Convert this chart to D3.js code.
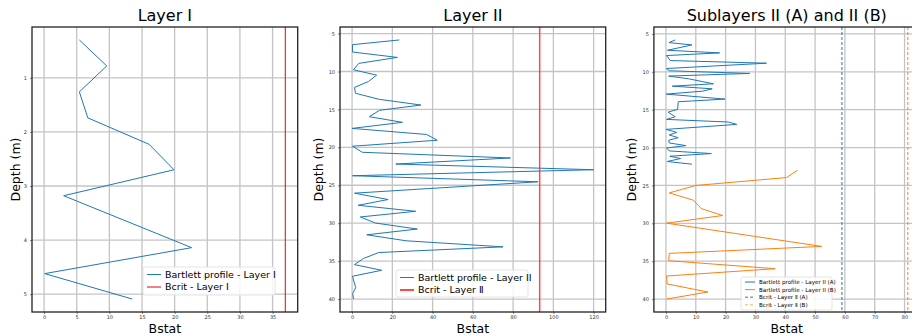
<!DOCTYPE html>
<html>
<head>
<meta charset="utf-8">
<script src="https://cdn.jsdelivr.net/npm/d3@7"></script>
<style>
  body { margin: 0; background: #fff; }
  text { font-family: "DejaVu Sans", sans-serif; }
</style>
</head>
<body>
<div id="chart"></div>
<script>
// ---- data ----
// Layer I
const layer1Depth = [0.30, 0.78, 1.26, 1.74, 2.23, 2.70, 3.18, 4.14, 4.62, 5.09];
const layer1Bstat = [5.4, 9.6, 5.4, 6.7, 16.1, 19.9, 3.0, 22.6, 0.1, 13.5];
const layer1Bcrit = 36.95;

// Layer II
const layer2Depth = [5.84, 6.46, 7.43, 8.14, 8.93, 9.77, 10.48, 11.32, 12.1, 12.87, 13.66, 14.42, 15.12, 15.96,
  16.7, 17.5, 18.3, 19.06, 19.85, 20.65, 21.4, 22.2, 22.95, 23.74, 24.54, 26.04, 26.88, 27.64, 28.43, 29.18,
  29.98, 30.77, 31.53, 32.32, 33.12, 33.87, 34.66, 35.46, 36.21, 37.0, 38.5, 39.3, 40.0];
const layer2Bstat = [23.5, 0.2, 0.2, 22.5, 3.3, 0.7, 12.2, 8.1, 1.2, 1.7, 13.4, 34.2, 13.6, 8.6,
  25.0, 0.0, 37.0, 42.3, 0.2, 5.1, 78.7, 21.7, 120.0, 0.2, 92.4, 1.2, 17.9, 3.0, 31.6, 4.1,
  11.6, 32.4, 7.3, 26.8, 75.0, 13.2, 5.6, 1.2, 14.7, 0.2, 1.8, 0.3, 0.7];
const layer2Bcrit = 93.2;

// Sublayer II (A)
const subADepth = [5.79, 6.14, 6.45, 7.15, 7.5, 7.85, 8.51, 8.86, 9.56, 9.86, 10.21, 10.56, 10.92, 11.58,
  11.89, 12.24, 12.55, 12.94, 13.6, 13.95, 14.96, 15.32, 15.93, 16.28, 16.63, 16.94, 17.6, 17.99, 18.34,
  18.69, 19.04, 19.39, 19.74, 20.05, 20.44, 20.79, 21.14, 21.45, 21.84, 22.19];
const subABstat = [3.1, 1.0, 8.7, 0.5, 18.0, 0.2, 1.4, 33.7, 0.2, 1.1, 28.1, 0.9, 7.6, 15.9,
  2.1, 15.5, 12.3, 0.1, 19.8, 4.1, 3.9, 0.7, 3.1, 0.2, 21.0, 23.7, 0.0, 3.6, 1.1, 4.1,
  0.9, 1.1, 6.7, 0.2, 1.1, 15.2, 1.3, 4.9, 0.4, 8.7];
const subABcrit = 59.0;

// Sublayer II (B)
const subBDepth = [23.0, 23.96, 25.0, 25.98, 26.95, 28.05, 28.97, 29.98, 33.05, 33.97, 34.94, 35.99, 36.96, 38.01, 39.07, 40.0];
const subBBstat = [44.1, 40.4, 10.0, 1.1, 9.2, 11.8, 19.0, 0.2, 52.2, 1.1, 0.9, 36.6, 0.2, 0.4, 14.1, 0.2];
const subBBcrit = 81.1;

const layer1XTicks = [0, 5, 10, 15, 20, 25, 30, 35];
const layer1YTicks = [1, 2, 3, 4, 5];
const layer2XTicks = [0, 20, 40, 60, 80, 100, 120];
const layer2YTicks = [5, 10, 15, 20, 25, 30, 35, 40];
const subXTicks = [0, 10, 20, 30, 40, 50, 60, 70, 80];
const subYTicks = [5, 10, 15, 20, 25, 30, 35, 40];

// ---- layout ----
const width = 912, height = 335;
const plotTop = 27, plotBottom = 312, panelW = 265.7;

const svg = d3.select("#chart").append("svg")
  .attr("width", width)
  .attr("height", height);

const blue = "#1f77b4", orange = "#ff7f0e";

function panel(opts) {
  const x = d3.scaleLinear().domain(opts.xDomain).range([opts.left, opts.left + panelW]);
  const y = d3.scaleLinear().domain(opts.yDomain).range([plotTop, plotBottom]);
  const g = svg.append("g");

  // grid
  g.append("g").selectAll("line").data(opts.xTicks).join("line")
    .attr("x1", d => x(d)).attr("x2", d => x(d))
    .attr("y1", plotTop).attr("y2", plotBottom)
    .attr("stroke", "#c4c4c4").attr("stroke-width", 1.3);
  g.append("g").selectAll("line").data(opts.yTicks).join("line")
    .attr("y1", d => y(d)).attr("y2", d => y(d))
    .attr("x1", opts.left).attr("x2", opts.left + panelW)
    .attr("stroke", "#c4c4c4").attr("stroke-width", 1.3);

  // axes
  const xAxis = g.append("g").attr("transform", "translate(0," + plotBottom + ")")
    .call(d3.axisBottom(x).tickValues(opts.xTicks).tickFormat(d3.format("d")).tickSize(2).tickPadding(1.5));
  const yAxis = g.append("g").attr("transform", "translate(" + opts.left + ",0)")
    .call(d3.axisLeft(y).tickValues(opts.yTicks).tickFormat(d3.format("d")).tickSize(2).tickPadding(3));
  [xAxis, yAxis].forEach(a => {
    a.select(".domain").remove();
    a.selectAll("text").attr("font-size", 5).attr("fill", "#333");
    a.selectAll("line").attr("stroke", "#333").attr("stroke-width", 0.6);
  });

  // series
  const clipId = "clip" + opts.left.toFixed(0);
  svg.append("clipPath").attr("id", clipId).append("rect")
    .attr("x", opts.left).attr("y", plotTop).attr("width", panelW).attr("height", plotBottom - plotTop);
  const plot = g.append("g").attr("clip-path", "url(#" + clipId + ")");

  opts.series.forEach(s => {
    const pts = s.depth.map((d, i) => [s.bstat[i], d]);
    plot.append("path")
      .datum(pts)
      .attr("fill", "none")
      .attr("stroke", s.color)
      .attr("stroke-width", 1)
      .attr("d", d3.line().x(d => x(d[0])).y(d => y(d[1])));
  });
  opts.crits.forEach(c => {
    plot.append("line")
      .attr("x1", x(c.value)).attr("x2", x(c.value))
      .attr("y1", plotTop).attr("y2", plotBottom)
      .attr("stroke", c.color).attr("stroke-width", c.width)
      .attr("stroke-dasharray", c.dash || null)
      .attr("opacity", c.opacity || 1);
  });

  // frame
  g.append("rect")
    .attr("x", opts.left).attr("y", plotTop).attr("width", panelW).attr("height", plotBottom - plotTop)
    .attr("fill", "none").attr("stroke", "#222").attr("stroke-width", 1.3);

  // title and labels
  svg.append("text").attr("x", opts.left + panelW / 2).attr("y", 21)
    .attr("text-anchor", "middle").attr("font-size", 16).text(opts.title);
  svg.append("text").attr("x", opts.left + panelW / 2).attr("y", 333)
    .attr("text-anchor", "middle").attr("font-size", 12.5).text("Bstat");
  svg.append("text")
    .attr("transform", "translate(" + opts.yLabelX + "," + ((plotTop + plotBottom) / 2) + ") rotate(-90)")
    .attr("text-anchor", "middle").attr("font-size", 12.5).text("Depth (m)");

  // legend
  const L = opts.legend;
  const lg = svg.append("g");
  lg.append("rect").attr("x", L.x).attr("y", L.y).attr("width", L.w).attr("height", L.h)
    .attr("rx", 2).attr("fill", "rgba(255,255,255,0.85)").attr("stroke", "#ddd").attr("stroke-width", 0.8);
  L.items.forEach((it, i) => {
    const cy = L.y + L.pad + i * L.step;
    lg.append("line").attr("x1", L.x + 4).attr("x2", L.x + 4 + L.lineW)
      .attr("y1", cy).attr("y2", cy)
      .attr("stroke", it.color).attr("stroke-width", it.width)
      .attr("stroke-dasharray", it.dash || null).attr("opacity", it.opacity || 1);
    lg.append("text").attr("x", L.x + 8 + L.lineW).attr("y", cy)
      .attr("dy", "0.35em").attr("font-size", L.font).text(it.label);
  });
}

panel({
  left: 32, title: "Layer I", yLabelX: 20,
  xDomain: [-1.85, 38.85], yDomain: [0.06, 5.33],
  xTicks: layer1XTicks, yTicks: layer1YTicks,
  series: [{ depth: layer1Depth, bstat: layer1Bstat, color: blue }],
  crits: [{ value: layer1Bcrit, color: "#e8000b", width: 1 }],
  legend: { x: 143, y: 267, w: 132, h: 28, pad: 7.5, step: 12.5, lineW: 14, font: 9.5,
    items: [
      { label: "Bartlett profile - Layer I", color: blue, width: 1 },
      { label: "Bcrit - Layer Ⅰ", color: "#e8000b", width: 1 }
    ] }
});

panel({
  left: 340, title: "Layer II", yLabelX: 323,
  xDomain: [-6, 126], yDomain: [4.13, 41.71],
  xTicks: layer2XTicks, yTicks: layer2YTicks,
  series: [{ depth: layer2Depth, bstat: layer2Bstat, color: blue }],
  crits: [{ value: layer2Bcrit, color: "#ff2a2a", width: 1.5, opacity: 0.85 }],
  legend: { x: 396, y: 270, w: 132, h: 27, pad: 7.5, step: 12.5, lineW: 14, font: 9.5,
    items: [
      { label: "Bartlett profile - Layer II", color: blue, width: 1 },
      { label: "Bcrit - Layer Ⅱ", color: "#ff2a2a", width: 2, opacity: 0.85 }
    ] }
});

panel({
  left: 653.9, title: "Sublayers II (A) and II (B)", yLabelX: 636,
  xDomain: [-4.05, 85.05], yDomain: [4.08, 41.71],
  xTicks: subXTicks, yTicks: subYTicks,
  series: [
    { depth: subADepth, bstat: subABstat, color: blue },
    { depth: subBDepth, bstat: subBBstat, color: orange }
  ],
  crits: [
    { value: subABcrit, color: blue, width: 1, dash: "3,2" },
    { value: subBBcrit, color: orange, width: 1, dash: "3,2" }
  ],
  legend: { x: 741, y: 277, w: 91, h: 33, pad: 5, step: 7.6, lineW: 10, font: 5.6,
    items: [
      { label: "Bartlett profile - Layer II (A)", color: blue, width: 1 },
      { label: "Bartlett profile - Layer II (B)", color: orange, width: 1 },
      { label: "Bcrit - Layer Ⅱ (A)", color: blue, width: 1, dash: "3,2" },
      { label: "Bcrit - Layer Ⅱ (B)", color: orange, width: 1, dash: "3,2", opacity: 0.6 }
    ] }
});
</script>
</body>
</html>
